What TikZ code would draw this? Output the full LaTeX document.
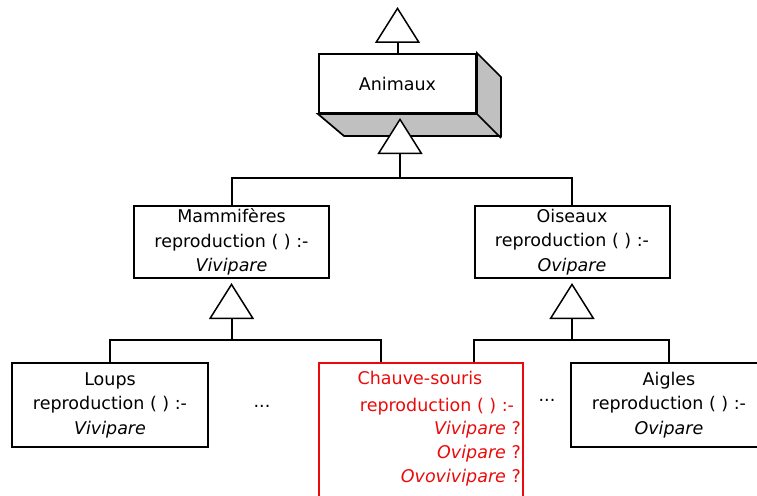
\documentclass[tikz,border=0pt]{standalone}
\usepackage{fontspec}
\setmainfont{DejaVu Sans}
\usetikzlibrary{arrows.meta,backgrounds,calc}
\definecolor{cred}{RGB}{235,10,10}
\definecolor{face}{RGB}{192,192,192}
\begin{document}
\begin{tikzpicture}[x=1pt,y=-1pt,
  every node/.style={font=\fontsize{17.5}{24.5}\selectfont, inner sep=0pt},
  cls/.style={draw, line width=2pt, fill=white, align=center, minimum width=195pt},
  link/.style={line width=2pt},
  inh/.style={line width=2pt, -{Triangle[fill=white, width=45pt, length=36pt, line width=1.5pt]}},
  redbox/.style={draw=cred, line width=1.3pt},
  redtxt/.style={text=cred, anchor=base}
]
\useasboundingbox (0,0) rectangle (757,495);
\clip (0,0) rectangle (757,495);

% classes
\node[cls, minimum width=157pt, minimum height=59pt] (ani) at (397.5,83.5) {Animaux};
\node[cls, minimum height=72pt] (mam) at (231.5,242) {Mammifères\\reproduction ( ) :-\\\textit{Vivipare}};
\node[cls, minimum height=72pt] (ois) at (572,242) {Oiseaux\\reproduction ( ) :-\\\textit{Ovipare}};
\node[cls, minimum width=196pt, minimum height=84pt] (loups) at (110,405) {Loups\\reproduction ( ) :-\\\textit{Vivipare}};
\node[cls, minimum width=196pt, minimum height=84pt] (aig) at (669,405) {Aigles\\reproduction ( ) :-\\\textit{Ovipare}};
\node[redbox, minimum width=204pt, minimum height=140pt] (cs) at (421,433) {};
\node[redtxt] (cs1) at (420,384) {Chauve-souris};
\node[redtxt] (cs2) at (437,411) {reproduction ( ) :-};
\node[redtxt, anchor=base east] (cs3) at (521,434) {\textit{Vivipare} ?};
\node[redtxt, anchor=base east] (cs4) at (521,458) {\textit{Ovipare} ?};
\node[redtxt, anchor=base east] (cs5) at (521,482) {\textit{Ovovivipare} ?};
\node (d1) at (262,406) {...};
\node (d2) at (547,400) {...};

% 3D faces of Animaux
\begin{scope}[on background layer]
\draw[line width=1.7pt, fill=face] (ani.north east) -- ++(24,24) -- ++(0,59) -- ++(-157,0) -- (ani.south west) -- (ani.south east) -- cycle;
\end{scope}
\draw[line width=1.7pt] (ani.south east) -- ++(24,24);

% inheritance
\coordinate (t1) at (397.5,7);
\draw[inh] (ani.north) -- (t1);

\coordinate (b1) at (400,178);
\coordinate (t2) at (400,118);
\draw[link] (mam.north) |- (b1) -| (ois.north);
\draw[inh] (b1) -- (t2);

\coordinate (b2) at (231.5,340);
\coordinate (t3) at (231.5,283);
\draw[link] (loups.north) |- (b2) -| ([xshift=63pt]cs.north west);
\draw[inh] (b2) -- (t3);

\coordinate (b3) at (572,340);
\coordinate (t4) at (572,283);
\draw[link] ([xshift=156pt]cs.north west) |- (b3) -| (aig.north);
\draw[inh] (b3) -- (t4);
\end{tikzpicture}
\end{document}
